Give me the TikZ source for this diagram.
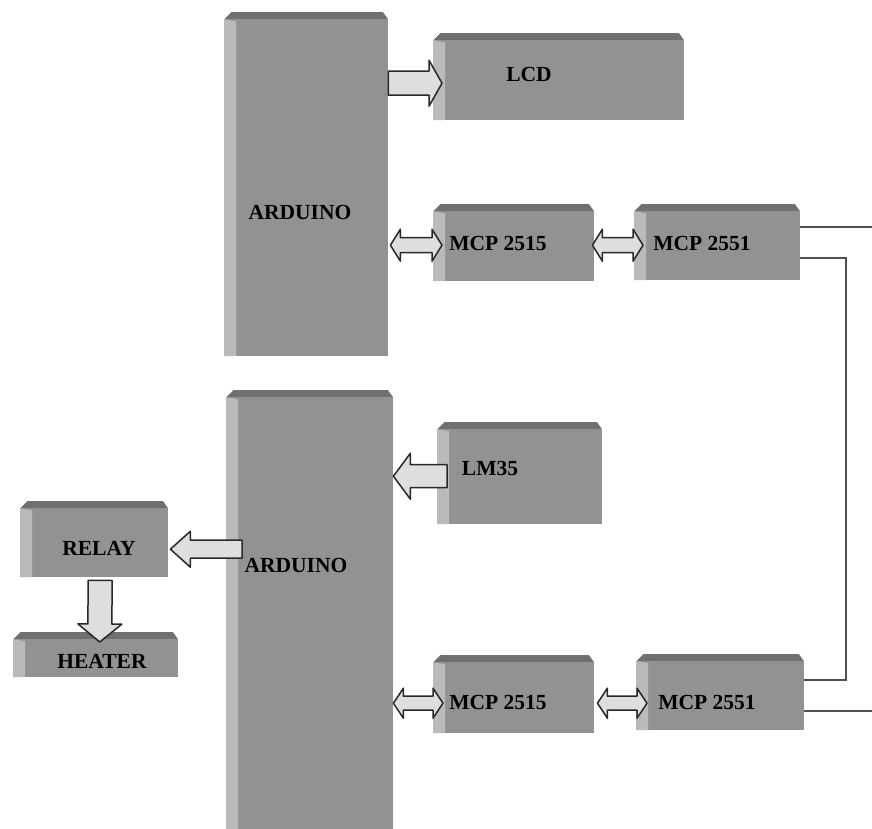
\documentclass[tikz,border=0pt]{standalone}
\usepackage{fontspec}
\setmainfont{Liberation Serif}
\usetikzlibrary{calc}
\definecolor{facegray}{RGB}{146,146,146}
\definecolor{sidegray}{RGB}{186,186,186}
\definecolor{topgray}{RGB}{112,112,112}
\definecolor{arrowfill}{RGB}{222,222,222}
\definecolor{edgegray}{RGB}{40,40,40}
\definecolor{busgray}{RGB}{80,80,80}
\tikzset{
  blk/.style={rectangle, anchor=north west, fill=facegray, inner sep=0pt,
    path picture={
      \fill[topgray] (path picture bounding box.north west) rectangle ([yshift=-7pt]path picture bounding box.north east);
      \fill[sidegray] ([yshift=-7pt]path picture bounding box.north west) -- ([xshift=12pt,yshift=-9pt]path picture bounding box.north west)
        -- ([xshift=12pt]path picture bounding box.south west) -- (path picture bounding box.south west) -- cycle;
      \fill[white] (path picture bounding box.north west) -- ([xshift=7pt]path picture bounding box.north west)
        -- ([yshift=-7pt]path picture bounding box.north west) -- cycle;
      \fill[white] (path picture bounding box.north east) -- ([xshift=-5pt]path picture bounding box.north east)
        -- ([yshift=-7pt]path picture bounding box.north east) -- cycle;
    }},
  lbl/.style={font=\bfseries\fontsize{21.5}{23}\selectfont, inner sep=0pt},
  fatarr/.style={fill=arrowfill, draw=edgegray, line width=1.5pt, line join=round},
  bus/.style={draw=busgray, line width=1.4pt}
}
% from, to, shaft half width, head half width, head length
\newcommand\onearrow[5]{%
  \coordinate (fa) at (#1); \coordinate (fb) at (#2);
  \coordinate (fh) at ($(fb)!#5pt!(fa)$);
  \draw[fatarr] ($(fa)!#3pt!90:(fb)$) -- ($(fh)!#3pt!-90:(fa)$) -- ($(fh)!#4pt!-90:(fa)$) -- (fb)
    -- ($(fh)!#4pt!90:(fa)$) -- ($(fh)!#3pt!90:(fa)$) -- ($(fa)!#3pt!-90:(fb)$) -- cycle;}
\newcommand\twoarrow[5]{%
  \coordinate (fa) at (#1); \coordinate (fb) at (#2);
  \coordinate (fg) at ($(fa)!#5pt!(fb)$); \coordinate (fh) at ($(fb)!#5pt!(fa)$);
  \draw[fatarr] (fa) -- ($(fg)!#4pt!90:(fb)$) -- ($(fg)!#3pt!90:(fb)$) -- ($(fh)!#3pt!-90:(fa)$)
    -- ($(fh)!#4pt!-90:(fa)$) -- (fb) -- ($(fh)!#4pt!90:(fa)$) -- ($(fh)!#3pt!90:(fa)$)
    -- ($(fg)!#3pt!-90:(fb)$) -- ($(fg)!#4pt!-90:(fb)$) -- cycle;}

\begin{document}
\begin{tikzpicture}[x=1pt, y=-1pt]
  \useasboundingbox (0,0) rectangle (872,828);
  \node[blk, minimum width=164pt, minimum height=344pt] (ardA) at (224,12) {};
  \node[blk, minimum width=251pt, minimum height=87pt] (lcd) at (433,33) {};
  \node[blk, minimum width=161pt, minimum height=77pt] (mcpA1) at (433,204) {};
  \node[blk, minimum width=166pt, minimum height=76pt] (mcpA2) at (634,204) {};
  \node[blk, minimum width=167pt, minimum height=440pt] (ardB) at (226,390) {};
  \node[blk, minimum width=165pt, minimum height=102pt] (lm35) at (437,422) {};
  \node[blk, minimum width=148pt, minimum height=76pt] (relay) at (20,501) {};
  \node[blk, minimum width=165pt, minimum height=45pt] (heater) at (13,632) {};
  \node[blk, minimum width=161pt, minimum height=78pt] (mcpB1) at (433,655) {};
  \node[blk, minimum width=168pt, minimum height=76pt] (mcpB2) at (636,654) {};

  \onearrow{[yshift=-6.5pt]ardA.east |- lcd.west}{[xshift=9pt,yshift=-6.5pt]lcd.west}{12}{23}{13}
  \twoarrow{[xshift=2pt,yshift=-2.5pt]ardA.east |- mcpA1.west}{[xshift=9pt,yshift=-2.5pt]mcpA1.west}{7.5}{16}{10}
  \twoarrow{[xshift=-2pt,yshift=-2.5pt]mcpA1.east}{[xshift=9pt,yshift=-2.5pt]mcpA2.west |- mcpA1.west}{7.5}{16}{10}
  \onearrow{[xshift=10pt,yshift=-3pt]lm35.west}{[yshift=-3pt]ardB.east |- lm35.west}{11.5}{23}{17}
  \onearrow{[xshift=16pt,yshift=-10pt]ardB.west |- relay.east}{[xshift=2pt,yshift=-10pt]relay.east}{9}{18}{20}
  \onearrow{[xshift=6pt,yshift=-3pt]relay.south}{[xshift=4pt,yshift=-10pt]heater.north}{12}{22}{18}
  \twoarrow{[yshift=-9pt]ardB.east |- mcpB1.west}{[xshift=10pt,yshift=-9pt]mcpB1.west}{7}{15}{10}
  \twoarrow{[xshift=3pt,yshift=-9pt]mcpB1.east}{[xshift=11pt,yshift=-9pt]mcpB2.west |- mcpB1.west}{7}{15}{10}

  \coordinate (canhA) at (872,227);
  \coordinate (canlA) at (846,258);
  \coordinate (canlB) at (846,680);
  \coordinate (canhB) at (872,711);
  \draw[bus] (mcpA2.east |- canhA) -- (canhA);
  \draw[bus] (mcpA2.east |- canlA) -- (canlA) -- (canlB) -- (mcpB2.east |- canlB);
  \draw[bus] (mcpB2.east |- canhB) -- (canhB);

  \node[lbl] (lcdtxt) at (529,74) {LCD};
  \node[lbl] (ardAtxt) at (300,212) {ARDUINO};
  \node[lbl] (mcpA1txt) at (498,243) {MCP 2515};
  \node[lbl] (mcpA2txt) at (702,243) {MCP 2551};
  \node[lbl] (lm35txt) at (490,468) {LM35};
  \node[lbl] (relaytxt) at (99,548) {RELAY};
  \node[lbl] (ardBtxt) at (296,565) {ARDUINO};
  \node[lbl] (heatertxt) at (102,661) {HEATER};
  \node[lbl] (mcpB1txt) at (498,702) {MCP 2515};
  \node[lbl] (mcpB2txt) at (707,702) {MCP 2551};
\end{tikzpicture}
\end{document}
